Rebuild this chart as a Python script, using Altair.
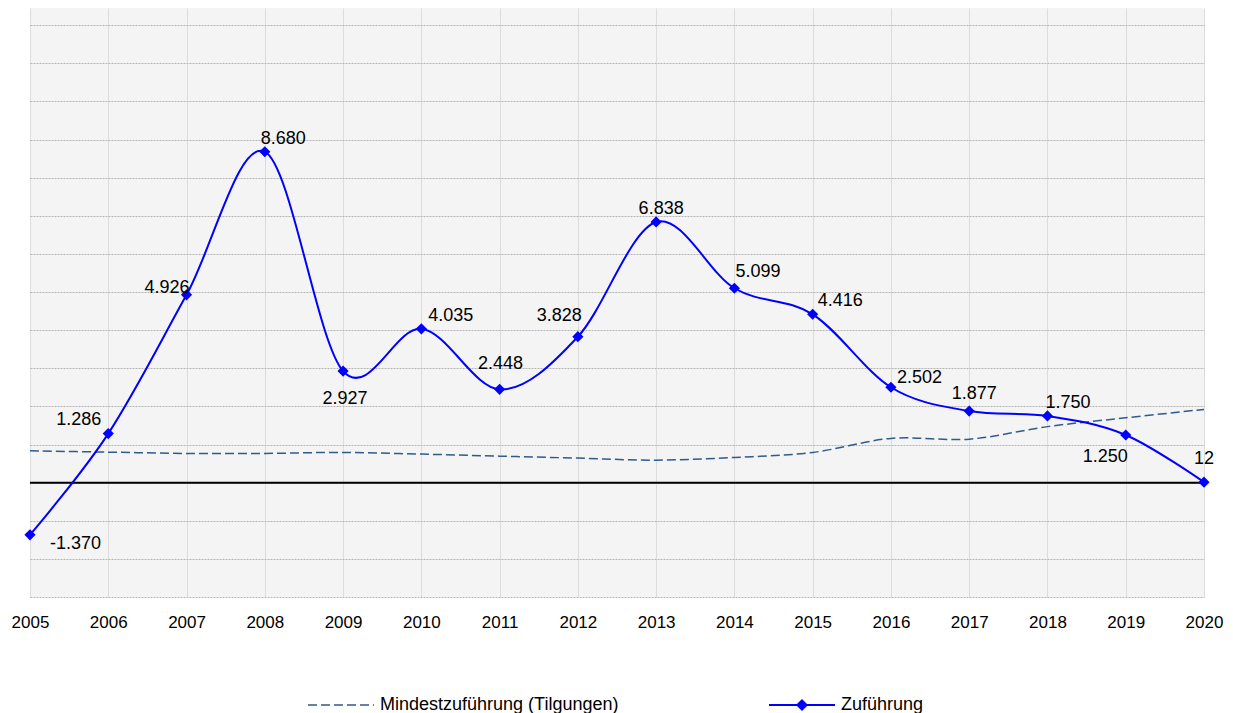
import altair as alt
import pandas as pd

# ---------------- data ----------------
years = list(range(2005, 2021))
zufuehrung = [-1370, 1286, 4926, 8680, 2927, 4035, 2448, 3828, 6838, 5099, 4416, 2502, 1877, 1750, 1250, 12]
mindest = [834, 800, 766, 766, 792, 748, 695, 643, 590, 661, 792, 1160, 1141, 1469, 1700, 1921]
grid_values = list(range(-3000, 12001, 1000))

series_mindest = "Mindestzuführung (Tilgungen)"
series_zuf = "Zuführung"
title_text = "Entwicklung der Zuführung an den Vermögenshaushalt (in T€)"

# ---------------- style ----------------
FONT = "Liberation Sans"
BLUE = "#0000ff"
DASH_COLOR = "#2f5b8c"

# label placement relative to its point: (align, dx, dy)
placement = {
    2005: ("left", 20, 9),
    2006: ("right", -7, -14),
    2007: ("right", 3, -7),
    2008: ("left", -4, -13),
    2009: ("center", 2, 28),
    2010: ("left", 7, -13),
    2011: ("center", 1, -25),
    2012: ("right", 4, -21),
    2013: ("center", 5, -13),
    2014: ("left", 1, -16),
    2015: ("left", 5, -13),
    2016: ("left", 6, -9),
    2017: ("center", 5, -17),
    2018: ("left", -2, -13),
    2019: ("right", 2, 22),
    2020: ("center", 0, -23),
}

df_z = pd.DataFrame({"year": years, "value": zufuehrung, "s2": series_zuf})
df_m = pd.DataFrame({"year": years, "value": mindest, "s1": series_mindest})
df_zero = pd.DataFrame({"value": [0]})

x_enc = alt.X(
    "year:Q",
    scale=alt.Scale(domain=[years[0], years[-1]], nice=False, zero=False),
    axis=alt.Axis(
        values=years, format="d", title=None, labelFontSize=17, labelFont=FONT,
        labelColor="black", labelPadding=17, ticks=False, tickSize=0, domain=False,
        grid=True, gridColor="#dcdcdc", gridWidth=1, labelFlush=False,
    ),
)
y_enc = alt.Y(
    "value:Q",
    scale=alt.Scale(domain=[-3000, 12450], nice=False, zero=False),
    axis=alt.Axis(
        values=grid_values, labels=False, ticks=False, tickSize=0,
        domain=False, title=None, grid=True, gridColor="#b4b4b4", gridDash=[2, 1], gridWidth=1,
    ),
)

SYM = 4356
legend_m = alt.Legend(
    orient="none", legendX=277, legendY=663, title=None,
    symbolSize=SYM, symbolType="M-1,0H1", symbolStrokeColor=DASH_COLOR, symbolStrokeWidth=1.5,
    labelFontSize=18, labelFont=FONT, labelColor="black", labelOffset=5, labelLimit=400,
)
legend_z = alt.Legend(
    orient="none", legendX=738, legendY=663, title=None,
    symbolSize=SYM, symbolType="M-1,0H1M0,-0.14L0.14,0L0,0.14L-0.14,0Z",
    symbolStrokeColor=BLUE, symbolFillColor=BLUE, symbolStrokeWidth=2,
    labelFontSize=18, labelFont=FONT, labelColor="black", labelOffset=5, labelLimit=400,
)

zero_rule = alt.Chart(df_zero).mark_rule(color="black", strokeWidth=2).encode(y=y_enc)

line_m = alt.Chart(df_m).mark_line(
    color=DASH_COLOR, strokeWidth=1.5, interpolate="cardinal"
).encode(
    x=x_enc, y=y_enc,
    strokeDash=alt.StrokeDash("s1:N", scale=alt.Scale(domain=[series_mindest], range=[[9, 4]]), legend=legend_m),
)

line_z = alt.Chart(df_z).mark_line(
    color=BLUE, strokeWidth=2, interpolate="cardinal"
).encode(x=x_enc, y=y_enc)

points = alt.Chart(df_z).mark_point(
    shape="diamond", filled=True, size=125, opacity=1
).encode(
    x=x_enc, y=y_enc,
    color=alt.Color("s2:N", scale=alt.Scale(domain=[series_zuf], range=[BLUE]), legend=legend_z),
)

# group label placements
groups = {}
for yr, pl in placement.items():
    groups.setdefault(pl, []).append(yr)

label_layers = []
for (align, dx, dy), yrs in groups.items():
    label_layers.append(
        alt.Chart(df_z)
        .transform_filter(alt.FieldOneOfPredicate(field="year", oneOf=yrs))
        .transform_calculate(
            label="(datum.value < 0 ? '-' : '') + replace(format(abs(datum.value), ','), ',', '.')"
        )
        .mark_text(align=align, baseline="middle", dx=dx, dy=dy, fontSize=18, font=FONT, color="black")
        .encode(x=x_enc, y=y_enc, text="label:N")
    )

title_layer = alt.Chart(pd.DataFrame({"t": [title_text]})).mark_text(
    align="left", baseline="bottom", fontSize=20, fontWeight="bold", font=FONT, color="black"
).encode(x=alt.value(20), y=alt.value(-3), text="t:N")

chart = alt.layer(
    zero_rule, line_m, line_z, points, *label_layers, title_layer
).properties(
    width=1174, height=589,
    padding={"left": 22, "top": 0, "right": 20, "bottom": 116},
    autosize=alt.AutoSizeParams(type="none"),
    background="white",
).configure_view(
    fill="#f4f4f4", strokeWidth=0
)

chart.save("out.html", embed_options={"renderer": "svg", "actions": False})
